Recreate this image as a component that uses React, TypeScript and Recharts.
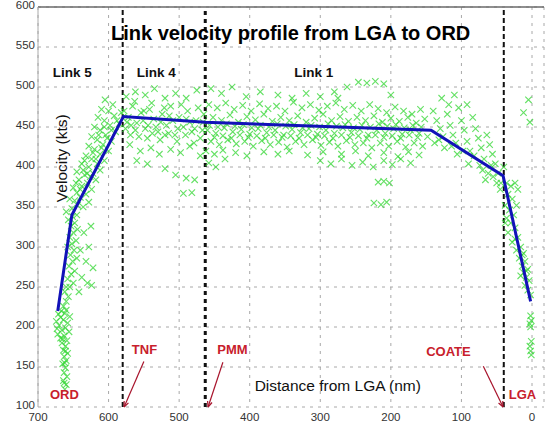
import React from 'react';
import {
  ScatterChart,
  Scatter,
  XAxis,
  YAxis,
  CartesianGrid,
  ReferenceLine,
  ReferenceDot,
} from 'recharts';

// [distance from LGA (nm), velocity (kts)]
const ordColumn: number[][] = [
  [662, 122], [660, 128], [664, 133], [659, 138], [663, 143], [661, 149], [665, 154], [660, 158],
  [663, 163], [658, 167], [664, 171], [661, 176], [666, 180], [659, 183], [668, 186], [663, 189],
  [672, 191], [656, 194], [666, 196], [661, 199], [670, 202], [658, 205], [674, 207], [664, 209],
  [668, 212], [655, 213], [671, 216], [662, 217], [667, 220], [660, 221], [673, 198], [665, 185],
  [662, 155], [663, 130], [661, 170],
];

const link5Low: number[][] = [
  [664, 226], [660, 232], [657, 238], [662, 244], [655, 250], [650, 255], [658, 260], [653, 266],
  [648, 270], [656, 276], [651, 282], [645, 286], [654, 290], [649, 296], [658, 300], [652, 304],
  [646, 308], [655, 312], [650, 318], [644, 322], [653, 326], [648, 330], [657, 334], [651, 338],
  [638, 262], [632, 282], [628, 300], [640, 296], [635, 318], [625, 326], [642, 244], [630, 255],
  [624, 252], [622, 274], [645, 340], [660, 250],
];

const link5Rise: number[][] = [
  [660, 344], [652, 348], [644, 352], [636, 350], [628, 356], [648, 358], [640, 362], [655, 360],
  [632, 366], [645, 368], [624, 372], [638, 376], [650, 374], [630, 380], [618, 384], [642, 384],
  [634, 390], [622, 392], [612, 396], [645, 394], [628, 400], [638, 404], [616, 404], [606, 408],
  [624, 410], [632, 414], [612, 416], [600, 420], [620, 422], [628, 426], [608, 428], [596, 432],
  [616, 434], [624, 438], [604, 440], [590, 444], [612, 446], [620, 450], [598, 452], [585, 454],
  [606, 458], [615, 462], [592, 464], [600, 470], [582, 468], [610, 472], [594, 478], [605, 484],
  [636, 396], [626, 388], [618, 410], [610, 424], [602, 436], [596, 446], [588, 458], [640, 372],
  [630, 392], [622, 418], [614, 440], [606, 450], [646, 380], [634, 408],
];

const link4: number[][] = [
  [578, 470], [572, 462], [566, 476], [560, 455], [554, 468], [548, 448], [542, 472], [536, 460],
  [530, 444], [524, 466], [518, 452], [512, 476], [506, 440], [500, 462], [494, 450], [488, 470],
  [482, 444], [476, 458], [470, 436], [465, 466], [576, 448], [569, 440], [563, 482], [557, 438],
  [551, 458], [545, 436], [539, 480], [533, 450], [527, 434], [521, 474], [515, 442], [509, 458],
  [503, 432], [497, 478], [491, 440], [485, 456], [479, 430], [473, 474], [467, 446],
  [574, 456], [562, 446], [550, 470], [538, 442], [526, 456], [514, 464], [502, 448], [490, 460],
  [478, 448], [466, 456], [568, 452], [544, 452], [520, 440],
  [575, 488], [562, 494], [548, 490], [535, 498], [520, 486], [505, 492], [490, 486], [475, 496],
  [570, 428], [555, 420], [540, 424], [528, 416], [512, 422], [498, 418], [485, 426], [470, 414],
  [560, 408], [545, 404], [520, 398], [505, 390], [490, 386], [478, 384], [494, 367], [482, 368],
];

const link1: number[][] = [
  [458, 478], [446, 474], [434, 480], [422, 472], [410, 477], [398, 470], [386, 479], [374, 473],
  [362, 476], [350, 470], [338, 481], [326, 474], [314, 478], [302, 471], [290, 476], [278, 480],
  [266, 472], [254, 477], [242, 470], [230, 478], [218, 473], [206, 468], [194, 475], [182, 470],
  [170, 466], [158, 472],
  [452, 462], [440, 458], [428, 465], [416, 456], [404, 463], [392, 459], [380, 466], [368, 457],
  [356, 462], [344, 458], [332, 464], [320, 456], [308, 461], [296, 466], [284, 458], [272, 463],
  [260, 457], [248, 462], [236, 458], [224, 464], [212, 456], [200, 461], [188, 457], [176, 462],
  [164, 455], [152, 460],
  [457, 452], [445, 450], [433, 454], [421, 451], [409, 453], [397, 449], [385, 452], [373, 450],
  [361, 454], [349, 451], [337, 453], [325, 449], [313, 452], [301, 450], [289, 454], [277, 451],
  [265, 453], [253, 449], [241, 452], [229, 450], [217, 454], [205, 451], [193, 453], [181, 449],
  [169, 452], [157, 450],
  [460, 446], [448, 442], [436, 449], [424, 444], [412, 447], [400, 441], [388, 448], [376, 443],
  [364, 446], [352, 440], [340, 447], [328, 443], [316, 448], [304, 441], [292, 446], [280, 442],
  [268, 449], [256, 443], [244, 447], [232, 440], [220, 446], [208, 442], [196, 448], [184, 441],
  [172, 446], [160, 442], [148, 438],
  [450, 437], [438, 439], [426, 436], [414, 440], [402, 437], [390, 439], [378, 436], [366, 440],
  [354, 437], [342, 439], [330, 436], [318, 440], [306, 437], [294, 439], [282, 436], [270, 440],
  [258, 437], [246, 439], [234, 436], [222, 440], [210, 437], [198, 439], [186, 436], [174, 440],
  [162, 437],
  [455, 432], [443, 428], [431, 434], [419, 429], [407, 432], [395, 426], [383, 433], [371, 428],
  [359, 431], [347, 425], [335, 432], [323, 428], [311, 434], [299, 427], [287, 431], [275, 426],
  [263, 433], [251, 428], [239, 430], [227, 424], [215, 430], [203, 426], [191, 432], [179, 425],
  [167, 430], [155, 426],
  [462, 420], [450, 416], [438, 421], [420, 418], [404, 414], [380, 419], [360, 416], [344, 420],
  [318, 415], [296, 419], [270, 416], [250, 420], [232, 414], [210, 418], [190, 413], [175, 419],
  [160, 415],
  [455, 498], [440, 492], [425, 500], [405, 488], [385, 494], [360, 490], [340, 486], [320, 492],
  [300, 488], [280, 494], [262, 500], [246, 506], [234, 505], [222, 507], [210, 504], [200, 490],
  [275, 486],
  [458, 405], [448, 400], [435, 410], [300, 408], [285, 404], [270, 410], [255, 402], [240, 406],
  [225, 400], [210, 408], [198, 403], [186, 410], [172, 405],
  [218, 381], [210, 382], [202, 380], [224, 355], [214, 353], [206, 356],
];

const descent: number[][] = [
  [140, 470], [135, 458], [130, 448], [126, 438], [120, 466], [116, 452], [112, 440], [108, 430],
  [104, 474], [100, 458], [96, 446], [92, 432], [88, 420], [84, 462], [80, 448], [76, 436],
  [72, 424], [68, 410], [64, 440], [60, 428], [56, 416], [52, 404], [48, 392], [44, 380],
  [70, 396], [62, 392], [55, 388], [50, 380], [45, 372], [58, 402], [66, 384], [74, 402],
  [82, 414], [90, 404], [98, 420], [106, 416], [114, 426], [124, 424], [132, 434], [138, 430],
  [118, 478], [128, 486], [110, 490], [92, 478], [40, 400],
];

const approachLga: number[][] = [
  [36, 380], [30, 376], [24, 380], [20, 372], [34, 366], [28, 360], [38, 352], [32, 346],
  [26, 340], [22, 352], [36, 336], [30, 330], [24, 324], [34, 318], [20, 312], [28, 306],
  [16, 300], [22, 296], [12, 292], [18, 286], [10, 282], [14, 276], [6, 272], [12, 268],
  [8, 262], [4, 258], [16, 264], [10, 252], [6, 246], [2, 240], [14, 290], [8, 270],
  [24, 310], [38, 330], [2, 214], [1, 208], [3, 204], [2, 200], [1, 182], [3, 176],
  [2, 170], [1, 165], [5, 484], [3, 456], [12, 468],
];

// blue piecewise link velocity profile
const profileDist = [672, 652, 579, 463, 143, 41, 2];
const profileVel = [220, 340, 463, 456, 446, 389, 232];

const xTicks = [0, 100, 200, 300, 400, 500, 600, 700];
const yTicks = [100, 150, 200, 250, 300, 350, 400, 450, 500, 550, 600];

// waypoints marked by dashed vertical lines
const waypointDist = [580, 463, 40];

// text annotations: [text, distance, velocity]
const blackLabels: [string, number, number][] = [
  ['Link 5', 679, 512],
  ['Link 4', 560, 512],
  ['Link 1', 337, 512],
  ['Distance from LGA (nm)', 393, 120],
];
const redLabels: [string, number, number][] = [
  ['ORD', 683, 110],
  ['TNF', 567, 166],
  ['PMM', 446, 166],
  ['COATE', 150, 164],
  ['LGA', 33, 110],
];
// arrows: [fromDist, fromVel, toDist, toVel]
const arrows = [
  [550, 157, 578, 100],
  [438, 156, 459, 100],
  [69, 151, 41, 100],
];

const FONT = 'Arial, "Liberation Sans", sans-serif';

const toPoints = (rows: number[][]) => rows.map(([d, v]) => ({ d, v }));
const cloud = [
  ...ordColumn, ...link5Low, ...link5Rise, ...link4, ...link1, ...descent, ...approachLga,
];
const cloudData = toPoints(cloud);
const profileData = profileDist.map((d, i) => ({ d, v: profileVel[i] }));

const XMark = (props: any) => {
  const { cx, cy } = props;
  const s = 3.2;
  return (
    <path
      d={`M${cx - s},${cy - s}L${cx + s},${cy + s}M${cx + s},${cy - s}L${cx - s},${cy + s}`}
      stroke="#30d530"
      strokeOpacity={0.75}
      strokeWidth={1.1}
      fill="none"
    />
  );
};

const Arrow = (props: any) => {
  const { x1, y1, x2, y2 } = props;
  const ang = Math.atan2(y2 - y1, x2 - x1);
  const len = 6;
  const a1 = ang + Math.PI - 0.4;
  const a2 = ang + Math.PI + 0.4;
  return (
    <g>
      <line x1={x1} y1={y1} x2={x2} y2={y2} stroke="#a8142c" strokeWidth={1.2} />
      <path
        d={`M${x2},${y2}L${x2 + len * Math.cos(a1)},${y2 + len * Math.sin(a1)}M${x2},${y2}L${x2 + len * Math.cos(a2)},${y2 + len * Math.sin(a2)}`}
        stroke="#a8142c"
        strokeWidth={1.2}
        fill="none"
      />
    </g>
  );
};

export default function App() {
  return (
    <div style={{ position: 'absolute', left: 0, top: 0, width: 549, height: 429, background: '#fff' }}>
      <ScatterChart width={549} height={429} margin={{ top: 7, right: 5, bottom: 0, left: 0 }}>
        <CartesianGrid stroke="#a8a8a8" strokeDasharray="3 5" />
        <XAxis
          type="number"
          dataKey="d"
          domain={[-17, 700]}
          reversed
          ticks={xTicks}
          allowDataOverflow
          axisLine={false}
          tickLine={false}
          tickSize={0}
          tickMargin={6}
          height={22}
          tick={{ fontSize: 11.5, fill: '#333', fontFamily: FONT }}
        />
        <YAxis
          type="number"
          dataKey="v"
          domain={[100, 600]}
          ticks={yTicks}
          allowDataOverflow
          axisLine={{ stroke: '#aaa' }}
          tickLine={false}
          tickSize={0}
          tickMargin={3}
          width={38}
          tick={{ fontSize: 11.5, fill: '#333', fontFamily: FONT, dy: -2 }}
        />
        <ReferenceLine y={600} stroke="#6a6a6a" strokeWidth={1.5} />
        <Scatter data={cloudData} shape={XMark} isAnimationActive={false} />
        <Scatter
          data={profileData}
          line={{ stroke: '#1212b8', strokeWidth: 3 }}
          shape={() => <g />}
          isAnimationActive={false}
        />
        {waypointDist.map((d, i) => (
          <ReferenceLine
            key={`wp-${i}`}
            x={d}
            stroke="#111"
            strokeWidth={i === 1 ? 3 : 2}
            strokeDasharray={i === 1 ? '4 4' : '5 3'}
          />
        ))}
        <ReferenceDot
          x={342}
          y={559}
          r={0}
          shape={(p: any) => (
            <text x={p.cx} y={p.cy} textAnchor="middle" fontFamily={FONT} fontWeight="bold" fontSize={20} fill="#000">
              Link velocity profile from LGA to ORD
            </text>
          )}
        />
        <ReferenceDot
          x={667}
          y={411}
          r={0}
          shape={(p: any) => (
            <text
              x={p.cx}
              y={p.cy}
              textAnchor="middle"
              dominantBaseline="central"
              transform={`rotate(-90 ${p.cx} ${p.cy})`}
              fontFamily={FONT}
              fontSize={15.5}
              fill="#111"
            >
              Velocity (kts)
            </text>
          )}
        />
        {blackLabels.map(([t, d, v], i) => (
          <ReferenceDot
            key={`bl-${i}`}
            x={d}
            y={v}
            r={0}
            shape={(p: any) => (
              <text
                x={p.cx}
                y={p.cy}
                fontFamily={FONT}
                fontSize={i === 3 ? 15.5 : 13.5}
                fontWeight={i === 3 ? 'normal' : 'bold'}
                fill="#111"
              >
                {t}
              </text>
            )}
          />
        ))}
        {redLabels.map(([t, d, v], i) => (
          <ReferenceDot
            key={`rl-${i}`}
            x={d}
            y={v}
            r={0}
            shape={(p: any) => (
              <text x={p.cx} y={p.cy} fontFamily={FONT} fontSize={13} fontWeight="bold" fill="#c8202c">
                {t}
              </text>
            )}
          />
        ))}
        {arrows.map(([d1, v1, d2, v2], i) => (
          <ReferenceLine
            key={`ar-${i}`}
            segment={[{ x: d1, y: v1 }, { x: d2, y: v2 }]}
            shape={Arrow}
          />
        ))}
      </ScatterChart>
    </div>
  );
}
